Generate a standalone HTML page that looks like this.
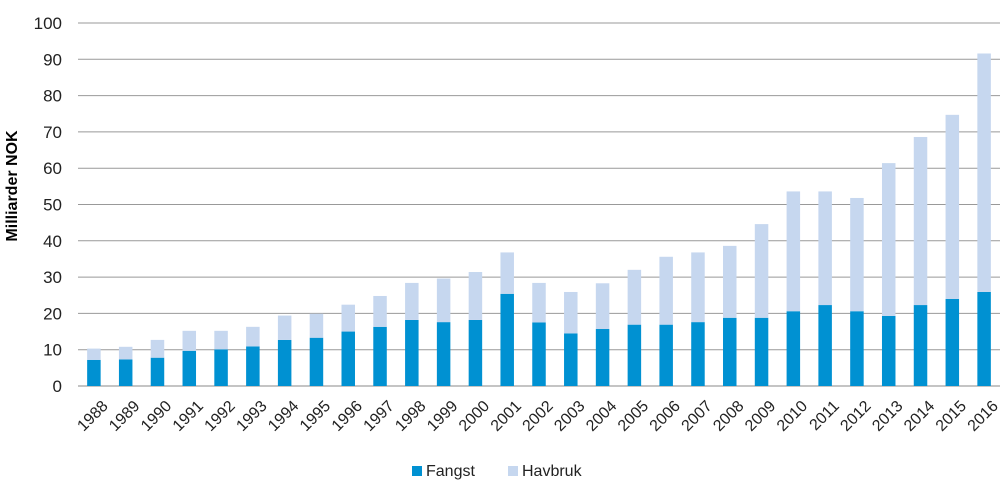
<!DOCTYPE html>
<html><head><meta charset="utf-8"><style>
body{margin:0;background:#fff;font-family:"Liberation Sans",Arial,sans-serif}
</style></head><body>
<svg id="chart" width="1000" height="498" xmlns="http://www.w3.org/2000/svg">
<g id="grid"></g><g id="bars"></g><g id="labels"></g>
<text x="17" y="186" transform="rotate(-90 17 186)" text-anchor="middle" font-size="16" font-weight="bold" fill="#000">Milliarder NOK</text>
<g>
<rect x="412" y="466" width="10" height="10" fill="#0091d2"/>
<text x="426" y="476" font-size="16" fill="#222">Fangst</text>
<rect x="508" y="466" width="10" height="10" fill="#c6d7ef"/>
<text x="522" y="476" font-size="16" fill="#222">Havbruk</text>
</g>
</svg>
<script>
const years=[1988,1989,1990,1991,1992,1993,1994,1995,1996,1997,1998,1999,2000,2001,2002,2003,2004,2005,2006,2007,2008,2009,2010,2011,2012,2013,2014,2015,2016];
const fangst=[7.2,7.3,7.8,9.7,10.1,10.9,12.7,13.3,15.0,16.3,18.2,17.6,18.2,25.4,17.5,14.5,15.7,16.9,16.9,17.6,18.8,18.8,20.6,22.3,20.6,19.3,22.3,24.0,25.9];
const havbruk=[3.1,3.5,4.9,5.5,5.1,5.4,6.7,6.6,7.4,8.5,10.2,12.0,13.2,11.4,10.9,11.4,12.6,15.1,18.7,19.2,19.8,25.8,33.0,31.3,31.2,42.1,46.3,50.7,65.7];
const yTicks=[0,10,20,30,40,50,60,70,80,90,100];
const NS="http://www.w3.org/2000/svg";
const y0=386,y100=23,xL=78,xR=1000;
const yS=v=>y0-(v/100)*(y0-y100);
const step=(xR-xL)/years.length;
const xC=i=>xL+step*(i+0.5);
const bw=13.5;
function mk(t,a,p){const e=document.createElementNS(NS,t);for(const k in a)e.setAttribute(k,a[k]);p.appendChild(e);return e;}
const grid=document.getElementById('grid'),bars=document.getElementById('bars'),labels=document.getElementById('labels');
yTicks.forEach(v=>{
 const l=mk('line',{x1:xL,x2:xR,y1:yS(v),y2:yS(v),stroke:v===0?'#888':'#999','stroke-width':1},grid);
 
 
 const t=mk('text',{x:62,y:yS(v)+6,'text-anchor':'end','font-size':17,fill:'#222'},labels);
 t.textContent=v;
 
 
});
years.forEach((yr,i)=>{
 const x=xC(i)-bw/2;
 const r1=mk('rect',{x:x,y:yS(fangst[i]),width:bw,height:y0-yS(fangst[i]),fill:'#0091d2'},bars);
 
 
 const tot=fangst[i]+havbruk[i];
 const r2=mk('rect',{x:x,y:yS(tot),width:bw,height:yS(fangst[i])-yS(tot),fill:'#c6d7ef'},bars);
 
 
 const tx=xC(i)+7,ty=399;
 const t=mk('text',{x:tx,y:ty,'text-anchor':'end','font-size':16,fill:'#222',transform:`rotate(-45 ${tx} ${ty})`,dy:'0.7em'},labels);
 t.textContent=yr;
 
 
});
</script>
</body></html>
